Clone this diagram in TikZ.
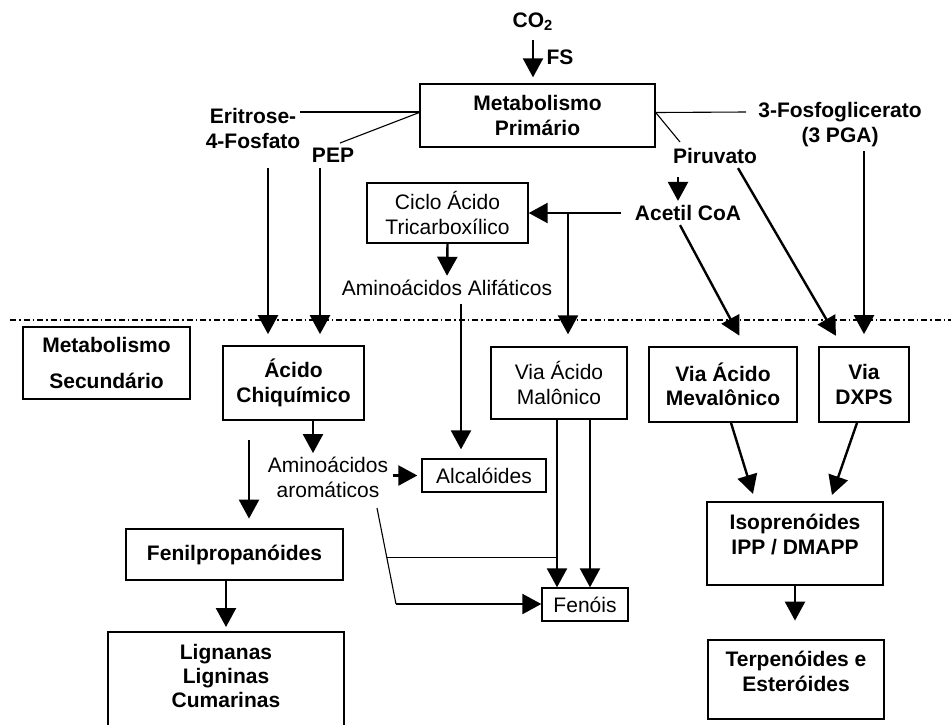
\documentclass[tikz,border=0pt]{standalone}
\usepackage{fontspec}
\setmainfont{Liberation Sans}
\usetikzlibrary{arrows.meta,calc}
\begin{document}
\begin{tikzpicture}[x=0.5pt,y=-0.5pt,
	font=\fontsize{10.5}{12.2}\selectfont,
	lbl/.style={inner sep=2pt,align=center},
	bold/.style={lbl,font=\fontsize{10.5}{12.2}\selectfont\bfseries},
	box/.style={draw,line width=0.7pt,inner sep=0pt,align=center},
	bbox/.style={box,font=\fontsize{10.5}{12.2}\selectfont\bfseries},
	link/.style={line width=0.55pt},
	arr/.style={line width=1.2pt,-{Triangle[length=9.5pt,width=10pt]}},
	dashdot/.style={line width=1pt,dash pattern=on 3pt off 1.5pt on 0.8pt off 1.5pt}]
	\clip (0,0) rectangle (951,724);
	% metabolismo primario
	\node[bold] (co2) at (533,22) {CO\textsubscript{2}};
	\node[bold] (fs) at (560,57) {FS};
	\node[bbox,minimum width=117.5pt,minimum height=31.5pt] (prim) at (537.5,115.5) {Metabolismo\\Primário};
	\node[bold] (erit) at (253,128.5) {Eritrose-\\4-Fosfato};
	\node[bold] (pep) at (333,155) {PEP};
	\node[bold] (pga) at (840,124.5) {3-Fosfoglicerato\\(3 PGA)};
	\node[bold] (piru) at (715,156) {Piruvato};
	\node[bold] (acet) at (688,213) {Acetil CoA};
	\node[box,minimum width=80.5pt,minimum height=30pt] (ciclo) at (447.5,213) {Ciclo Ácido\\Tricarboxílico};
	\node[lbl] (amal) at (447,288) {Aminoácidos Alifáticos};
	% metabolismo secundario
	\node[bbox,minimum width=83.5pt,minimum height=36pt] (sec) at (106.5,363) {Metabolismo\\[6pt]Secundário};
	\node[bbox,line width=0.85pt,minimum width=70.5pt,minimum height=37pt] (chiq) at (293.5,383) {Ácido\\Chiquímico};
	\node[lbl] (aaro) at (328,477.5) {Aminoácidos\\aromáticos};
	\node[box,minimum width=62pt,minimum height=16.5pt] (alca) at (484,475.5) {Alcalóides};
	\node[bbox,line width=1.4pt,minimum width=108.5pt,minimum height=25.5pt] (feni) at (234.5,554.5) {Fenilpropanóides};
	\node[box,line width=1pt,minimum width=118pt,minimum height=54pt] (lign) at (226,686) {};
	\node[bold] (ligntxt) at (226,676) {Lignanas\\Ligninas\\Cumarinas};
	\node[box,minimum width=68pt,minimum height=36pt] (malo) at (559,383) {Via Ácido\\Malônico};
	\node[box,minimum width=43pt,minimum height=16.5pt] (feno) at (585,604.5) {Fenóis};
	\node[bbox,line width=0.85pt,minimum width=74pt,minimum height=37.5pt] (meva) at (723,384.5) {Via Ácido\\Mevalônico};
	\node[bbox,line width=0.85pt,minimum width=45pt,minimum height=37.5pt] (dxps) at (864,384.5) {Via\\DXPS};
	\node[box,line width=1.4pt,minimum width=88pt,minimum height=41.5pt] (isop) at (795,543.5) {};
	\node[bold] (isoptxt) at (795,534.5) {Isoprenóides\\IPP / DMAPP};
	\node[box,line width=1.4pt,minimum width=88pt,minimum height=39.5pt] (terp) at (796,679.5) {};
	\node[bold] (terptxt) at (796,671.5) {Terpenóides e\\Esteróides};
	% free ends
	\coordinate (e1) at (300,112);
	\coordinate (p1) at (340,143);
	\coordinate (g1) at (746,112);
	\coordinate (p2) at (680,142);
	\coordinate (pa) at (678,177);
	\coordinate (br) at (568,0);
	\coordinate (al) at (461,304);
	\coordinate (er) at (268,168);
	\coordinate (pp) at (320,168);
	\coordinate (cq) at (313,0);
	\coordinate (fx) at (249,440);
	\coordinate (s1) at (377,508);
	\coordinate (s2) at (396,604);
	\coordinate (s3) at ($(s1)!0.52!(s2)$);
	\coordinate (m1) at (557,0);
	\coordinate (m2) at (590,0);
	% connectors
	\draw[arr,shorten <=2.5pt,shorten >=3pt] (co2.south) -- (co2.south |- prim.north);
	\draw[link] (e1) -- (e1 -| prim.west);
	\draw[link] (p1) -- ([yshift=1.5pt]prim.west);
	\draw[link] ([yshift=1.5pt]prim.east) -- (g1);
	\draw[link] ([yshift=1.5pt]prim.east) -- (p2);
	\draw[arr] (pa) -- (pa |- acet.north);
	\draw[arr] ([xshift=-5pt]acet.west) -- (acet.west -| ciclo.east);
	\draw[arr,shorten >=6pt] (br |- acet.west) -- (br |- malo.north);
	\draw[arr] (ciclo.south) -- (amal.north);
	\draw[arr,shorten >=4.5pt] (al) -- (al |- alca.north);
	\draw[dashdot] (10,320) -- (951,320);
	\draw[arr,shorten >=5.5pt] (er) -- (er |- chiq.north);
	\draw[arr,shorten >=5.5pt] (pp) -- (pp |- chiq.north);
	\draw[arr] (chiq.south -| cq) -- (aaro.north -| cq);
	\draw[arr,shorten >=2pt] (aaro.east |- alca.west) -- (alca.west);
	\draw[arr,shorten >=4.5pt] (fx) -- (fx |- feni.north);
	\draw[arr,shorten >=2pt] (feni.south -| lign.north) -- (lign.north);
	\draw[link] (s1) -- (s2);
	\draw[arr] (s2) -- (s2 -| feno.west);
	\draw[link] (s3) -- (s3 -| m1);
	\draw[arr] (malo.south -| m1) -- (feno.north -| m1);
	\draw[arr] (malo.south -| m2) -- (feno.north -| m2);
	\draw[arr,shorten >=6pt] ([xshift=-4pt]acet.south) -- ([xshift=11pt]meva.north);
	\draw[arr,shorten >=6pt] ([xshift=11.5pt]piru.south) -- ([xshift=-11pt]dxps.north);
	\draw[arr,shorten >=6pt] (pga.south -| dxps.north) -- (dxps.north);
	\draw[arr,shorten >=3.5pt] ([xshift=4pt]meva.south) -- ([xshift=-20pt]isop.north);
	\draw[arr,shorten >=3pt] ([xshift=-3.5pt]dxps.south) -- ([xshift=17.5pt]isop.north);
	\draw[arr,shorten >=9pt] (isop.south) -- (isop.south |- terp.north);
\end{tikzpicture}
\end{document}
